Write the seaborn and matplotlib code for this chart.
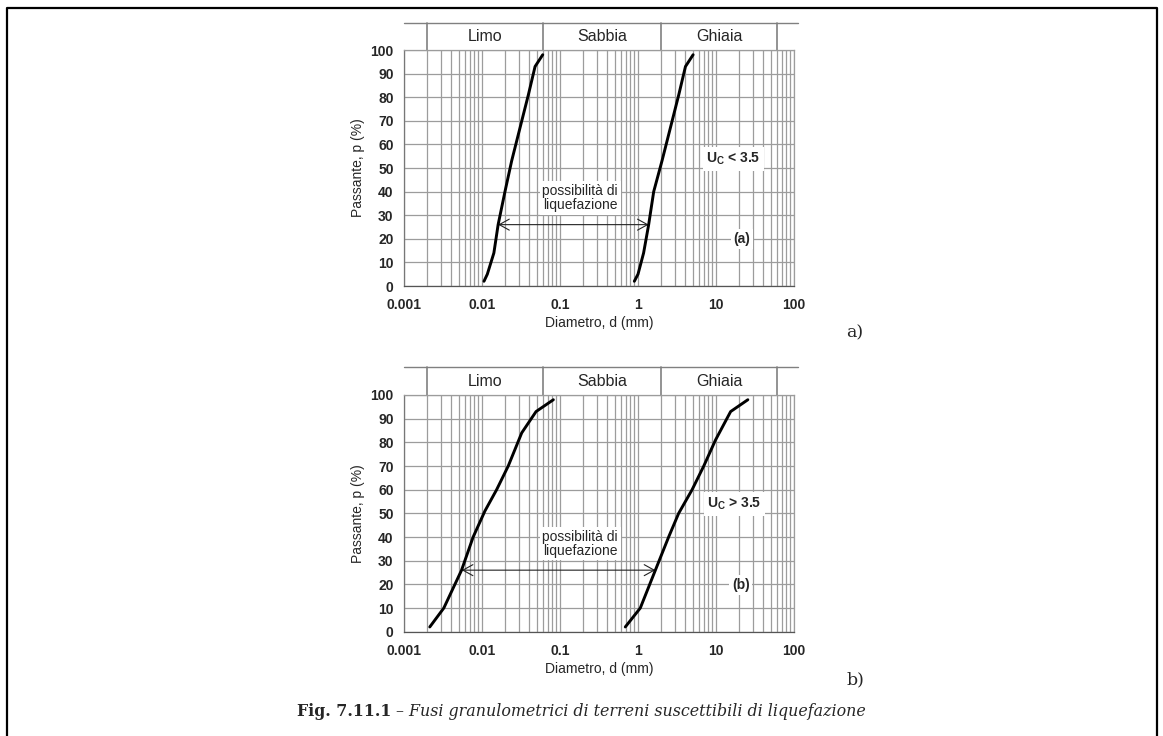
import numpy as np
import pandas as pd
import matplotlib
matplotlib.use('Agg')
import matplotlib.pyplot as plt
import seaborn as sns
import matplotlib.transforms as mtransforms
from matplotlib.lines import Line2D
from matplotlib.ticker import LogLocator, FixedLocator, FixedFormatter, NullFormatter

# ---------------- data ----------------
fraction_names = ['Limo', 'Sabbia', 'Ghiaia']
fraction_bounds = [0.002, 0.06, 2, 60]

x_ticks = [0.001, 0.01, 0.1, 1, 10, 100]
x_tick_labels = ['0.001', '0.01', '0.1', '1', '10', '100']
y_ticks = [0, 10, 20, 30, 40, 50, 60, 70, 80, 90, 100]

# panel (a)  Uc < 3.5
a_fine_d = [0.0106, 0.0117, 0.0142, 0.0161, 0.0197, 0.024, 0.0307, 0.0393, 0.0479, 0.0601]
a_fine_p = [2, 5, 14, 26, 40, 53, 67, 81, 93, 98]
a_coarse_d = [0.897, 1.0, 1.18, 1.37, 1.59, 2.03, 2.6, 3.33, 4.06, 5.09]
a_coarse_p = [2, 5, 14, 26, 40, 53, 67, 81, 93, 98]
a_arrow_d = [0.0161, 1.37]
a_arrow_p = 26

# panel (b)  Uc > 3.5
b_fine_d = [0.00214, 0.00324, 0.00547, 0.0077, 0.0109, 0.0154, 0.0217, 0.0323, 0.0493, 0.0822]
b_fine_p = [2, 10, 26, 40, 51, 60, 70, 84, 93, 98]
b_coarse_d = [0.687, 1.07, 1.67, 2.47, 3.32, 4.94, 6.97, 9.86, 15.4, 25.6]
b_coarse_p = [2, 10, 26, 40, 50, 60, 70, 81, 93, 98]
b_arrow_d = [0.0055, 1.67]
b_arrow_p = 26

zone_text = 'possibilità di\nliquefazione'
a_uc_text = r'U$_\mathregular{C}$ < 3.5'
b_uc_text = r'U$_\mathregular{C}$ > 3.5'

# ---------------- style ----------------
sns.set_theme(style='white')
plt.rcParams['font.family'] = ['Liberation Sans', 'DejaVu Sans']
plt.rcParams['mathtext.default'] = 'regular'

W, H = 1163, 736
fig = plt.figure(figsize=(W / 100, H / 100), dpi=100)
fig.patch.set_facecolor('white')


def rect(x0, y_top, x1, y_bot):
    return [x0 / W, 1 - y_bot / H, (x1 - x0) / W, (y_bot - y_top) / H]


GRID = '#9c9c9c'


def draw_panel(ax, fine, coarse, arrow_d, arrow_p, uc_text, uc_pos, tag, tag_pos, header_px, ax_h_px):
    df = pd.concat([
        pd.DataFrame({'d': fine[0], 'p': fine[1], 'curve': 'fine'}),
        pd.DataFrame({'d': coarse[0], 'p': coarse[1], 'curve': 'coarse'}),
    ])
    sns.lineplot(data=df, x='d', y='p', units='curve', estimator=None, sort=False,
                 color='black', lw=2.1, ax=ax, legend=False, zorder=5)
    ax.set_xscale('log')
    ax.set_xlim(x_ticks[0], x_ticks[-1])
    ax.set_ylim(0, 100)
    ax.xaxis.set_major_locator(FixedLocator(x_ticks))
    ax.xaxis.set_major_formatter(FixedFormatter(x_tick_labels))
    ax.xaxis.set_minor_locator(LogLocator(base=10, subs=np.arange(2, 10)))
    ax.xaxis.set_minor_formatter(NullFormatter())
    ax.yaxis.set_major_locator(FixedLocator(y_ticks))
    ax.set_axisbelow(True)
    ax.grid(which='both', axis='x', color=GRID, lw=0.9)
    ax.grid(which='major', axis='y', color=GRID, lw=0.9)
    ax.tick_params(axis='both', which='both', length=0)
    ax.tick_params(axis='x', pad=8.5, labelsize=10)
    ax.tick_params(axis='y', pad=7.5, labelsize=10)
    for lab in ax.get_xticklabels() + ax.get_yticklabels():
        lab.set_fontweight('bold')
    for s in ax.spines.values():
        s.set_color(GRID)
        s.set_linewidth(0.9)
    ax.spines['bottom'].set_color('#555555')
    ax.spines['left'].set_color('#777777')
    ax.set_xlabel('Diametro, d (mm)', fontsize=10, labelpad=3)
    ax.set_ylabel('Passante, p (%)', fontsize=10, labelpad=4)

    # header with soil fractions
    trans = mtransforms.blended_transform_factory(ax.transData, ax.transAxes)
    top = 1 + header_px / ax_h_px
    ax.plot([x_ticks[0], 111.7], [top, top], transform=trans, clip_on=False,
            color='#808080', lw=1.0)
    for b in fraction_bounds:
        ax.plot([b, b], [1, top], transform=trans, clip_on=False, color='#808080', lw=1.2)
    for name, lo, hi in zip(fraction_names, fraction_bounds[:-1], fraction_bounds[1:]):
        ax.text(np.sqrt(lo * hi), (1 + top) / 2, name, transform=trans,
                ha='center', va='center', fontsize=11.5)

    # arrow + texts
    ax.annotate('', xy=(arrow_d[1], arrow_p), xytext=(arrow_d[0], arrow_p),
                arrowprops=dict(arrowstyle='<->, head_length=0.6, head_width=0.33',
                                color='#222222', lw=0.8, shrinkA=0, shrinkB=0), zorder=4)
    ax.text(0.181, 37.2, zone_text, ha='center', va='center', fontsize=10,
            linespacing=1.0, zorder=3,
            bbox=dict(facecolor='white', edgecolor='none', pad=2))
    ax.text(uc_pos[0], uc_pos[1], uc_text, ha='center', va='center', fontsize=10,
            fontweight='bold', zorder=3,
            bbox=dict(facecolor='white', edgecolor='none', pad=2.5))
    ax.text(tag_pos[0], tag_pos[1], tag, ha='center', va='center', fontsize=10,
            fontweight='bold', zorder=3,
            bbox=dict(facecolor='white', edgecolor='none', pad=2))


ax_a = fig.add_axes(rect(404, 50, 794, 286))
ax_b = fig.add_axes(rect(404, 395, 794, 631.7))

draw_panel(ax_a, (a_fine_d, a_fine_p), (a_coarse_d, a_coarse_p), a_arrow_d, a_arrow_p,
           a_uc_text, (16.8, 53.8), '(a)', (21.4, 20), 27, 236)
draw_panel(ax_b, (b_fine_d, b_fine_p), (b_coarse_d, b_coarse_p), b_arrow_d, b_arrow_p,
           b_uc_text, (17.3, 53.9), '(b)', (20.7, 19.7), 28, 236.7)

# panel letters
serif = ['DejaVu Serif']
fig.text(855 / W, 1 - 333 / H, 'a)', ha='center', va='center', fontsize=12.5, family=serif)
fig.text(855 / W, 1 - 680 / H, 'b)', ha='center', va='center', fontsize=12.5, family=serif)

# caption
t1 = fig.text(297 / W, 1 - 716 / H, 'Fig. 7.11.1', ha='left', va='baseline',
              fontsize=11.45, fontweight='bold', family=serif)
ax_b.annotate(' \u2013 Fusi granulometrici di terreni suscettibili di liquefazione',
              xy=(1, 0), xycoords=t1, ha='left', va='bottom', fontsize=11.45,
              style='italic', family=serif, annotation_clip=False)

# outer frame
fx0, fx1, fy = 6.5 / W, 1156.5 / W, 1 - 7.5 / H
fig.add_artist(Line2D([fx0, fx0, fx1, fx1], [0, fy, fy, 0], transform=fig.transFigure,
                      color='black', lw=1.6))

fig.savefig('out.png', dpi=100, facecolor='white')
